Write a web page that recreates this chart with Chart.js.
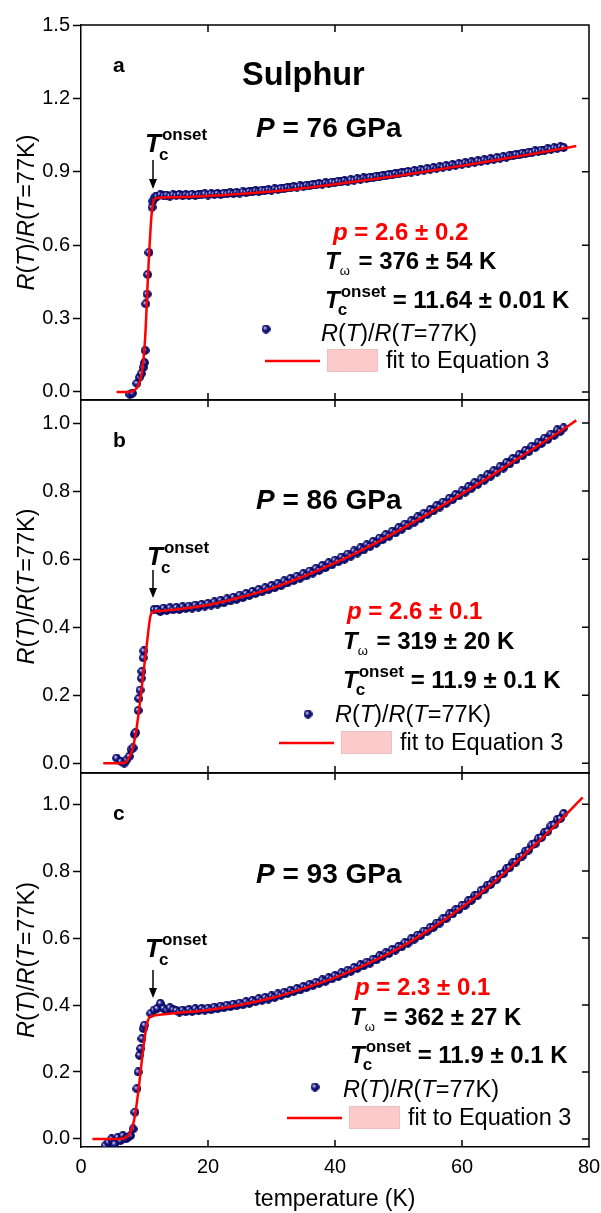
<!DOCTYPE html>
<html>
<head>
<meta charset="utf-8">
<script src="https://cdn.jsdelivr.net/npm/chart.js@4.4.0/dist/chart.umd.min.js"></script>
<style>
  body { margin: 0; background: #fff; width: 601px; height: 1213px; position: relative; overflow: hidden; }
  canvas { position: absolute; left: 0; }
</style>
</head>
<body>
<canvas id="panelA" width="601" height="420" style="top:0px;width:601px;height:420px"></canvas>
<canvas id="panelB" width="601" height="393" style="top:390px;width:601px;height:393px"></canvas>
<canvas id="panelC" width="601" height="450" style="top:763px;width:601px;height:450px"></canvas>
<script>
/* Datos: R(T)/R(T=77K) vs temperatura */

const xTicks = [0, 20, 40, 60, 80];
const yTicksA = [0.0, 0.3, 0.6, 0.9, 1.2, 1.5];
const yTicksB = [0.0, 0.2, 0.4, 0.6, 0.8, 1.0];
const yTicksC = [0.0, 0.2, 0.4, 0.6, 0.8, 1.0];

/* a - P = 76 GPa */
const tempA = [7.7, 8.1, 8.8, 9.2, 9.5, 9.8, 10.0, 10.1, 10.2, 10.4, 10.5, 10.7, 11.2, 11.3, 11.5, 11.8,
  12, 12.5, 13, 13.5, 14, 14.5, 15, 15.5, 16, 16.5, 17, 17.5, 18, 18.5, 19, 19.5, 20, 20.5, 21, 21.5, 22, 22.5, 23, 23.5,
  24, 24.5, 25, 25.5, 26, 26.5, 27, 27.5, 28, 28.5, 29, 29.5, 30, 30.5, 31, 31.5, 32, 32.5, 33, 33.5, 34, 34.5, 35, 35.5,
  36, 36.5, 37, 37.5, 38, 38.5, 39, 39.5, 40, 40.5, 41, 41.5, 42, 42.5, 43, 43.5, 44, 44.5, 45, 45.5, 46, 46.5, 47, 47.5,
  48, 48.5, 49, 49.5, 50, 50.5, 51, 51.5, 52, 52.5, 53, 53.5, 54, 54.5, 55, 55.5, 56, 56.5, 57, 57.5, 58, 58.5, 59, 59.5,
  60, 60.5, 61, 61.5, 62, 62.5, 63, 63.5, 64, 64.5, 65, 65.5, 66, 66.5, 67, 67.5, 68, 68.5, 69, 69.5, 70, 70.5, 71, 71.5,
  72, 72.5, 73, 73.5, 74, 74.5, 75, 75.5, 76];
const ratioA = [-0.01, -0.005, 0.035, 0.06, 0.075, 0.1, 0.12, 0.17, 0.36, 0.4, 0.48, 0.57, 0.755, 0.78, 0.79, 0.8,
  0.8, 0.806, 0.802, 0.805, 0.8, 0.806, 0.803, 0.807, 0.802, 0.806, 0.804, 0.808, 0.803, 0.807, 0.806, 0.81, 0.805, 0.81, 0.808, 0.811, 0.807, 0.812, 0.81, 0.814,
  0.811, 0.815, 0.813, 0.818, 0.815, 0.82, 0.818, 0.822, 0.82, 0.825, 0.823, 0.827, 0.825, 0.83, 0.828, 0.833, 0.831, 0.836, 0.834, 0.839, 0.837, 0.842, 0.84, 0.845,
  0.843, 0.848, 0.846, 0.851, 0.849, 0.855, 0.853, 0.858, 0.856, 0.861, 0.859, 0.864, 0.862, 0.868, 0.866, 0.871, 0.869, 0.875, 0.873, 0.878, 0.876, 0.882, 0.88, 0.885,
  0.883, 0.889, 0.887, 0.893, 0.891, 0.897, 0.895, 0.901, 0.899, 0.905, 0.903, 0.909, 0.907, 0.913, 0.911, 0.917, 0.915, 0.921, 0.919, 0.925, 0.923, 0.929, 0.927, 0.933,
  0.931, 0.937, 0.935, 0.941, 0.939, 0.945, 0.943, 0.949, 0.947, 0.953, 0.951, 0.958, 0.956, 0.962, 0.96, 0.967, 0.965, 0.971, 0.969, 0.976, 0.974, 0.98, 0.978, 0.985,
  0.983, 0.989, 0.987, 0.994, 0.992, 0.998, 0.996, 1.002, 0.999];
const fitTempA = [5.6, 7.5, 8.3, 9, 9.6, 10.1, 10.6, 11.1, 11.5, 12, 15, 20, 25, 30, 35, 40, 45, 50, 55, 60, 65, 70, 75, 78];
const fitA = [0, 0, 0.005, 0.025, 0.08, 0.22, 0.5, 0.72, 0.785, 0.793, 0.796, 0.801, 0.809, 0.819, 0.833, 0.849, 0.866, 0.884, 0.904, 0.925, 0.946, 0.968, 0.991, 1.005];

/* b - P = 86 GPa */
const tempB = [5.6, 6.3, 6.8, 7.2, 7.6, 7.9, 8.2, 8.4, 8.6, 9.0, 9.1, 9.3, 9.5, 9.6, 9.8, 9.9, 11.5,
  12, 12.5, 13, 13.5, 14, 14.5, 15, 15.5, 16, 16.5, 17, 17.5, 18, 18.5, 19, 19.5, 20, 20.5, 21, 21.5, 22, 22.5, 23, 23.5,
  24, 24.5, 25, 25.5, 26, 26.5, 27, 27.5, 28, 28.5, 29, 29.5, 30, 30.5, 31, 31.5, 32, 32.5, 33, 33.5, 34, 34.5, 35, 35.5,
  36, 36.5, 37, 37.5, 38, 38.5, 39, 39.5, 40, 40.5, 41, 41.5, 42, 42.5, 43, 43.5, 44, 44.5, 45, 45.5, 46, 46.5, 47, 47.5,
  48, 48.5, 49, 49.5, 50, 50.5, 51, 51.5, 52, 52.5, 53, 53.5, 54, 54.5, 55, 55.5, 56, 56.5, 57, 57.5, 58, 58.5, 59, 59.5,
  60, 60.5, 61, 61.5, 62, 62.5, 63, 63.5, 64, 64.5, 65, 65.5, 66, 66.5, 67, 67.5, 68, 68.5, 69, 69.5, 70, 70.5, 71, 71.5,
  72, 72.5, 73, 73.5, 74, 74.5, 75, 75.5, 76];
const ratioB = [0.015, 0.005, 0.0, 0.01, 0.02, 0.04, 0.045, 0.085, 0.09, 0.155, 0.19, 0.215, 0.25, 0.27, 0.31, 0.33, 0.452,
  0.452, 0.446, 0.456, 0.449, 0.457, 0.451, 0.458, 0.452, 0.46, 0.455, 0.462, 0.456, 0.465, 0.459, 0.467, 0.462, 0.47, 0.465, 0.474, 0.468, 0.479, 0.472, 0.483, 0.477,
  0.488, 0.482, 0.494, 0.487, 0.499, 0.493, 0.505, 0.499, 0.511, 0.504, 0.516, 0.51, 0.522, 0.516, 0.529, 0.522, 0.536, 0.53, 0.543, 0.537, 0.55, 0.544, 0.557, 0.551,
  0.565, 0.559, 0.573, 0.567, 0.581, 0.575, 0.589, 0.583, 0.597, 0.592, 0.606, 0.6, 0.615, 0.609, 0.624, 0.618, 0.633, 0.627, 0.642, 0.637, 0.652, 0.647, 0.662, 0.657,
  0.672, 0.667, 0.682, 0.677, 0.692, 0.688, 0.703, 0.698, 0.713, 0.709, 0.724, 0.72, 0.735, 0.731, 0.746, 0.742, 0.757, 0.753, 0.768, 0.764, 0.779, 0.775, 0.79, 0.786,
  0.801, 0.797, 0.813, 0.809, 0.825, 0.82, 0.836, 0.832, 0.848, 0.844, 0.86, 0.856, 0.872, 0.868, 0.884, 0.88, 0.896, 0.892, 0.908, 0.904, 0.92, 0.916, 0.932, 0.928,
  0.944, 0.94, 0.956, 0.952, 0.968, 0.964, 0.98, 0.976, 0.986];
const fitTempB = [3.5, 6.5, 7.3, 8, 8.6, 9.2, 9.8, 10.4, 10.9, 11.3, 12, 15, 20, 25, 30, 35, 40, 45, 50, 55, 60, 65, 70, 75, 78];
const fitB = [0, 0, 0.008, 0.035, 0.085, 0.165, 0.26, 0.355, 0.43, 0.445, 0.447, 0.452, 0.465, 0.487, 0.514, 0.549, 0.589, 0.634, 0.684, 0.737, 0.792, 0.85, 0.91, 0.97, 1.008];

/* c - P = 93 GPa */
const tempC = [3.8, 4.3, 4.8, 5.3, 5.8, 6.2, 6.6, 7.0, 7.4, 7.8, 8.2, 8.5, 8.8, 9.0, 9.2, 9.4, 9.6, 9.8, 10.0, 11, 11.5, 12, 12.5, 13, 13.5,
  14, 14.5, 15, 15.5, 16, 16.5, 17, 17.5, 18, 18.5, 19, 19.5, 20, 20.5, 21, 21.5, 22, 22.5, 23, 23.5,
  24, 24.5, 25, 25.5, 26, 26.5, 27, 27.5, 28, 28.5, 29, 29.5, 30, 30.5, 31, 31.5, 32, 32.5, 33, 33.5, 34, 34.5, 35, 35.5,
  36, 36.5, 37, 37.5, 38, 38.5, 39, 39.5, 40, 40.5, 41, 41.5, 42, 42.5, 43, 43.5, 44, 44.5, 45, 45.5, 46, 46.5, 47, 47.5,
  48, 48.5, 49, 49.5, 50, 50.5, 51, 51.5, 52, 52.5, 53, 53.5, 54, 54.5, 55, 55.5, 56, 56.5, 57, 57.5, 58, 58.5, 59, 59.5,
  60, 60.5, 61, 61.5, 62, 62.5, 63, 63.5, 64, 64.5, 65, 65.5, 66, 66.5, 67, 67.5, 68, 68.5, 69, 69.5, 70, 70.5, 71, 71.5,
  72, 72.5, 73, 73.5, 74, 74.5, 75, 75.5, 76];
const ratioC = [-0.02, -0.01, 0.0, -0.015, 0.005, -0.005, 0.01, 0.0, 0.005, 0.01, 0.03, 0.08, 0.15, 0.2, 0.25, 0.27, 0.3, 0.33, 0.34, 0.375, 0.385, 0.39, 0.405, 0.39, 0.385,
  0.392, 0.386, 0.384, 0.379, 0.385, 0.38, 0.387, 0.381, 0.389, 0.383, 0.39, 0.385, 0.391, 0.386, 0.394, 0.389, 0.397, 0.392, 0.4, 0.395,
  0.403, 0.398, 0.406, 0.401, 0.41, 0.405, 0.414, 0.41, 0.419, 0.414, 0.423, 0.418, 0.427, 0.423, 0.433, 0.429, 0.438, 0.434, 0.444, 0.44, 0.449, 0.445, 0.455, 0.452,
  0.462, 0.458, 0.468, 0.465, 0.475, 0.471, 0.481, 0.478, 0.488, 0.485, 0.496, 0.493, 0.504, 0.501, 0.512, 0.509, 0.52, 0.517, 0.528, 0.525, 0.537, 0.535, 0.547, 0.545,
  0.556, 0.554, 0.566, 0.564, 0.575, 0.574, 0.586, 0.585, 0.598, 0.597, 0.609, 0.608, 0.621, 0.62, 0.632, 0.632, 0.645, 0.645, 0.658, 0.658, 0.672, 0.672, 0.685, 0.685,
  0.698, 0.698, 0.712, 0.713, 0.727, 0.728, 0.742, 0.744, 0.758, 0.76, 0.773, 0.776, 0.79, 0.792, 0.807, 0.81, 0.825, 0.827, 0.842, 0.845, 0.86, 0.863, 0.878, 0.881,
  0.897, 0.9, 0.916, 0.919, 0.935, 0.938, 0.954, 0.957, 0.972];
const fitTempC = [1.8, 6, 7, 7.8, 8.5, 9.2, 9.8, 10.4, 10.9, 12, 15, 20, 25, 30, 35, 40, 45, 50, 55, 60, 65, 70, 75, 79];
const fitC = [0, 0, 0.004, 0.02, 0.07, 0.17, 0.27, 0.345, 0.365, 0.37, 0.376, 0.385, 0.4, 0.421, 0.449, 0.482, 0.522, 0.569, 0.626, 0.692, 0.766, 0.852, 0.942, 1.02];

/* Fuentes y utilidades de texto */

const FONT = "'Liberation Sans', Arial, sans-serif";
const font = (size, style = '') => `${style} ${size}px ${FONT}`;

const drawRuns = (ctx, x, y, runs) => {
  let cx = x;
  runs.forEach(([t, size, style, dy = 0, color = '#000', dx = 0]) => {
    ctx.font = font(size, style);
    ctx.fillStyle = color;
    cx += dx;
    ctx.fillText(t, cx, y + dy);
    cx += ctx.measureText(t).width;
  });
  return cx;
};

const runsWidth = (ctx, runs) => {
  let w = 0;
  runs.forEach(([t, size, style, dy = 0, color, dx = 0]) => {
    ctx.font = font(size, style);
    w += ctx.measureText(t).width + dx;
  });
  return w;
};

/* T_c^onset */
const drawTc = (ctx, x, y, big, small) => {
  let cx = drawRuns(ctx, x, y, [['T', big, 'italic bold']]);
  drawRuns(ctx, cx - 2, y + big * 0.3, [['c', small, 'bold']]);
  return drawRuns(ctx, cx + 1, y - big * 0.45, [['onset', small, 'bold']]);
};

const ratioLabel = (size) => [['R', size, 'italic'], ['(', size, ''], ['T', size, 'italic'], [')/', size, ''],
  ['R', size, 'italic'], ['(', size, ''], ['T', size, 'italic'], ['=77K)', size, '']];

/* Marcador tipo esfera */
const ball = document.createElement('canvas');
ball.width = 9;
ball.height = 9;
{
  const b = ball.getContext('2d');
  const g = b.createRadialGradient(3.2, 3.2, 0.2, 4.5, 4.5, 4.6);
  g.addColorStop(0, '#ffffff');
  g.addColorStop(0.2, '#8080c8');
  g.addColorStop(0.5, '#13137f');
  g.addColorStop(1, '#000050');
  b.fillStyle = g;
  b.beginPath();
  b.arc(4.5, 4.5, 4.4, 0, Math.PI * 2);
  b.fill();
}

/* Paneles */

const panels = [
  {
    id: 'panelA', top: 0, pad: { top: 25, bottom: 20 }, xHeight: 0, showX: false,
    yMin: -0.033, yMax: 1.5, yTicks: yTicksA,
    temp: tempA, ratio: ratioA, fitTemp: fitTempA, fit: fitA,
    letter: [113, 72, 'a'], title: [242, 85], pressure: [256, 137, ' = 76 GPa'],
    tc: [145, 152, 153, 160, 189],
    pLine: [333, 240, ' = 2.6 ± 0.2'], wLine: [325, 269, ' = 376 ± 54 K'], tLine: [325, 308, ' = 11.64 ± 0.01 K'],
    legend: [321, 341, 368], dot: [266, 329],
  },
  {
    id: 'panelB', top: 390, pad: { top: 10, bottom: 10 }, xHeight: 0, showX: false,
    yMin: -0.029, yMax: 1.068, yTicks: yTicksB,
    temp: tempB, ratio: ratioB, fitTemp: fitTempB, fit: fitB,
    letter: [113, 447, 'b'], title: null, pressure: [256, 509, ' = 86 GPa'],
    tc: [147, 565, 153, 570, 598],
    pLine: [347, 619, ' = 2.6 ± 0.1'], wLine: [343, 649, ' = 319 ± 20 K'], tLine: [343, 688, ' = 11.9 ± 0.1 K'],
    legend: [335, 722, 750], dot: [308, 714],
  },
  {
    id: 'panelC', top: 763, pad: { top: 10, bottom: 0 }, xHeight: 66, showX: true,
    yMin: -0.024, yMax: 1.093, yTicks: yTicksC,
    temp: tempC, ratio: ratioC, fitTemp: fitTempC, fit: fitC,
    letter: [113, 820, 'c'], title: null, pressure: [256, 883, ' = 93 GPa'],
    tc: [145, 957, 153, 970, 998],
    pLine: [355, 995, ' = 2.3 ± 0.1'], wLine: [350, 1025, ' = 362 ± 27 K'], tLine: [350, 1063, ' = 11.9 ± 0.1 K'],
    legend: [343, 1097, 1125], dot: [315, 1087],
  },
];

/* Marco, ticks internos, titulo del eje y anotaciones */
const panelDecor = (p) => ({
  id: 'decor_' + p.id,
  afterDraw(chart) {
    const { ctx, chartArea: a, scales: { x, y } } = chart;
    const oy = p.top;
    ctx.save();

    // marco y ticks hacia adentro
    ctx.strokeStyle = '#000';
    ctx.lineWidth = 1.5;
    ctx.beginPath();
    ctx.moveTo(a.left, a.top);
    ctx.lineTo(a.right, a.top);
    ctx.lineTo(a.right, a.bottom);
    x.ticks.forEach((t) => {
      const px = x.getPixelForValue(t.value);
      if (px <= a.left + 1 || px >= a.right - 1) return;
      ctx.moveTo(px, a.bottom);
      ctx.lineTo(px, a.bottom - 7);
      ctx.moveTo(px, a.top);
      ctx.lineTo(px, a.top + 7);
    });
    y.ticks.forEach((t) => {
      const py = y.getPixelForValue(t.value);
      ctx.moveTo(a.right, py);
      ctx.lineTo(a.right - 7, py);
    });
    ctx.stroke();

    // titulo del eje y
    const yTitle = ratioLabel(23.5);
    ctx.save();
    ctx.translate(34, (a.top + a.bottom) / 2);
    ctx.rotate(-Math.PI / 2);
    drawRuns(ctx, -runsWidth(ctx, yTitle) / 2, 0, yTitle);
    ctx.restore();

    // letra del panel, titulo y presion
    drawRuns(ctx, p.letter[0], p.letter[1] - oy, [[p.letter[2], 21, 'bold']]);
    if (p.title) drawRuns(ctx, p.title[0], p.title[1] - oy, [['Sulphur', 32.5, 'bold']]);
    drawRuns(ctx, p.pressure[0], p.pressure[1] - oy, [['P', 28, 'italic bold'], [p.pressure[2], 28, 'bold']]);

    // T_c onset con flecha
    const [tx, ty, ax, a1, a2] = p.tc;
    drawTc(ctx, tx, ty - oy, 26, 17);
    ctx.beginPath();
    ctx.moveTo(ax, a1 - oy);
    ctx.lineTo(ax, a2 - oy - 8);
    ctx.stroke();
    ctx.beginPath();
    ctx.moveTo(ax - 4, a2 - oy - 10);
    ctx.lineTo(ax + 4, a2 - oy - 10);
    ctx.lineTo(ax, a2 - oy);
    ctx.closePath();
    ctx.fillStyle = '#000';
    ctx.fill();

    // parametros del ajuste
    drawRuns(ctx, p.pLine[0], p.pLine[1] - oy, [['p', 24, 'italic bold', 0, '#ff0000'], [p.pLine[2], 24, 'bold', 0, '#ff0000']]);
    drawRuns(ctx, p.wLine[0], p.wLine[1] - oy, [['T', 24, 'italic bold'], ['ω', 13, '', 6], [p.wLine[2], 24, 'bold', 0, '#000', 2]]);
    let cx = drawTc(ctx, p.tLine[0], p.tLine[1] - oy, 24, 17);
    drawRuns(ctx, cx, p.tLine[1] - oy, [[p.tLine[2], 24, 'bold']]);

    // leyenda
    const [lx, ly1, ly2] = p.legend;
    ctx.drawImage(ball, p.dot[0] - 4.5, p.dot[1] - oy - 4.5);
    drawRuns(ctx, lx, ly1 - oy, ratioLabel(23.5));
    ctx.strokeStyle = '#ff0000';
    ctx.lineWidth = 2.5;
    ctx.beginPath();
    ctx.moveTo(lx - 56, ly2 - oy - 7);
    ctx.lineTo(lx - 1, ly2 - oy - 7);
    ctx.stroke();
    ctx.fillStyle = '#fbcaca';
    ctx.fillRect(lx + 6, ly2 - oy - 19, 51, 23);
    ctx.strokeStyle = '#ecc0c0';
    ctx.lineWidth = 1;
    ctx.strokeRect(lx + 6.5, ly2 - oy - 18.5, 50, 22);
    drawRuns(ctx, lx + 65, ly2 - oy, [['fit to Equation 3', 23.5, '']]);

    ctx.restore();
  },
});

panels.forEach((p) => {
  const points = p.temp.map((t, i) => ({ x: t, y: p.ratio[i] }));
  const fitLine = p.fitTemp.map((t, i) => ({ x: t, y: p.fit[i] }));

  new Chart(document.getElementById(p.id), {
    type: 'scatter',
    data: {
      datasets: [
        {
          data: fitLine,
          showLine: true,
          borderColor: '#ff0000',
          borderWidth: 2.5,
          pointRadius: 0,
          cubicInterpolationMode: 'monotone',
          order: 0,
        },
        {
          data: points,
          pointStyle: ball,
          pointRadius: 4.5,
          order: 1,
        },
      ],
    },
    options: {
      responsive: false,
      animation: false,
      layout: { padding: { top: p.pad.top, bottom: p.pad.bottom, left: 0, right: 12 } },
      plugins: {
        legend: { display: false },
        tooltip: { enabled: false },
      },
      scales: {
        x: {
          type: 'linear',
          min: 0,
          max: 80,
          afterBuildTicks: (s) => { s.ticks = xTicks.map((v) => ({ value: v })); },
          afterFit: (s) => {
            s.height = p.xHeight;
            s.paddingLeft = 0;
            s.paddingRight = 0;
          },
          ticks: { display: p.showX, color: '#000', padding: 8, maxRotation: 0, font: { family: FONT, size: 20 } },
          grid: { drawOnChartArea: false, drawTicks: false },
          border: { color: '#000', width: 1.5 },
          title: {
            display: p.showX,
            text: 'temperature (K)',
            color: '#000',
            font: { family: FONT, size: 23 },
            padding: { top: 2, bottom: 0 },
          },
        },
        y: {
          min: p.yMin,
          max: p.yMax,
          afterBuildTicks: (s) => { s.ticks = p.yTicks.map((v) => ({ value: v })); },
          afterFit: (s) => {
            s.width = 81;
            s.paddingTop = 0;
            s.paddingBottom = 0;
          },
          ticks: { color: '#000', padding: 3, font: { family: FONT, size: 20 }, callback: (v) => v.toFixed(1) },
          grid: { drawOnChartArea: false, tickLength: 8, tickColor: '#000', tickWidth: 1.5 },
          border: { color: '#000', width: 1.5 },
        },
      },
    },
    plugins: [panelDecor(p)],
  });
});
</script>
</body>
</html>
